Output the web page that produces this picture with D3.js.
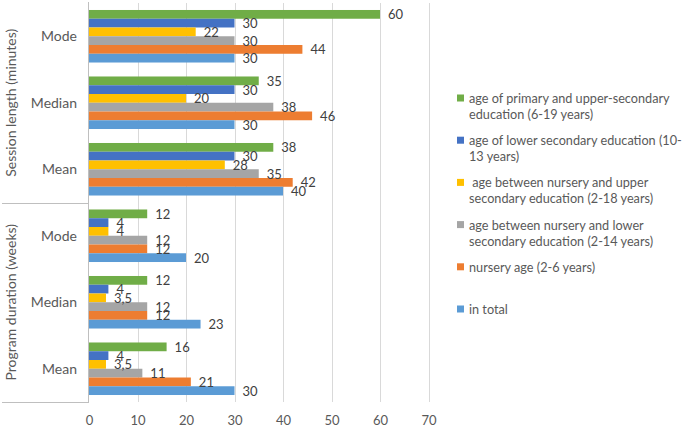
<!DOCTYPE html>
<html>
<head>
<meta charset="utf-8">
<script src="https://cdn.jsdelivr.net/npm/d3@7"></script>
<style>
  html, body { margin: 0; padding: 0; background: #fff; }
  svg { display: block; }
  text { font-family: Lato, "Open Sans", sans-serif; }
</style>
</head>
<body>
<svg id="chart" width="685" height="427"></svg>
<script>
// ---- data ----
const categories = ["Mode", "Median", "Mean", "Mode", "Median", "Mean"];
const groupNames = ["Session length (minutes)", "Program duration (weeks)"];
const categoryGroup = [0, 0, 0, 1, 1, 1];

// series listed top-to-bottom within each category (and legend order)
const seriesNames = [
  "age of primary and upper-secondary education (6-19 years)",
  "age of lower secondary education (10-13 years)",
  " age between nursery and upper secondary education (2-18 years)",
  "age between nursery and lower secondary education (2-14 years)",
  "nursery age (2-6 years)",
  "in total"
];
const legendLines = [
  ["age of primary and upper-secondary", "education (6-19 years)"],
  ["age of lower secondary education (10-", "13 years)"],
  ["\u00a0age between nursery and upper", "secondary education (2-18 years)"],
  ["age between nursery and lower", "secondary education (2-14 years)"],
  ["nursery age (2-6 years)"],
  ["in total"]
];
const seriesColors = ["#70ad47", "#4472c4", "#ffc000", "#a5a5a5", "#ed7d31", "#5b9bd5"];

const primaryUpper   = [60, 35, 38, 12, 12, 16];
const lowerSecondary = [30, 30, 30, 4, 4, 4];
const nurseryUpper   = [22, 20, 28, 4, 3.5, 3.5];
const nurseryLower   = [30, 38, 35, 12, 12, 11];
const nurseryAge     = [44, 46, 42, 12, 12, 21];
const inTotal        = [30, 30, 40, 20, 23, 30];
const seriesValues = [primaryUpper, lowerSecondary, nurseryUpper, nurseryLower, nurseryAge, inTotal];

const xTicks = [0, 10, 20, 30, 40, 50, 60, 70];

// ---- layout ----
const svg = d3.select("#chart");
svg.append("rect").attr("width", 685).attr("height", 427).attr("fill", "#fff");

const plotLeft = 89, plotRight = 428.5, plotTop = 3, plotBottom = 402;

const x = d3.scaleLinear().domain([0, 70]).range([plotLeft, plotRight]);
const y = d3.scaleBand().domain(d3.range(categories.length))
  .range([plotTop, plotBottom]).paddingInner(0.21).paddingOuter(0.105);
const ySeries = d3.scaleBand().domain(d3.range(seriesNames.length))
  .range([0, y.bandwidth()]);

const locale = d3.formatLocale({decimal: ",", thousands: ".", grouping: [3], currency: ["", ""]});
const fmt = v => Number.isInteger(v) ? String(v) : locale.format(".1f")(v);

// gridlines
svg.append("g").selectAll("line").data(xTicks.filter(t => t > 0)).join("line")
  .attr("x1", d => Math.round(x(d)) + 0.5).attr("x2", d => Math.round(x(d)) + 0.5)
  .attr("y1", plotTop).attr("y2", plotBottom)
  .attr("stroke", "#d9d9d9").attr("stroke-width", 1);

// x axis tick labels
const xAxis = d3.axisBottom(x).tickValues(xTicks).tickSize(0).tickPadding(0);
const xg = svg.append("g").attr("transform", `translate(0,${plotBottom})`).call(xAxis);
xg.select(".domain").remove();
xg.selectAll("text").attr("font-family", "Lato, sans-serif").attr("font-size", 13)
  .attr("fill", "#595959").attr("dy", null).attr("y", 23);

// bars
const seriesG = svg.append("g").selectAll("g").data(seriesValues).join("g")
  .attr("fill", (d, i) => seriesColors[i]);
seriesG.each(function(vals, si) {
  d3.select(this).selectAll("rect").data(vals).join("rect")
    .attr("x", x(0))
    .attr("y", (v, ci) => y(ci) + ySeries(si))
    .attr("width", v => x(v) - x(0))
    .attr("height", ySeries.bandwidth());
});

// data labels
const labelsG = svg.append("g");
seriesValues.forEach((vals, si) => {
  labelsG.selectAll(null).data(vals).join("text")
    .attr("x", v => x(v) + 8)
    .attr("y", (v, ci) => y(ci) + ySeries(si) + ySeries.bandwidth() / 2 + 5)
    .attr("font-size", 13).attr("fill", "#404040")
    .text(v => fmt(v));
});

// category axis lines
const axisG = svg.append("g").attr("stroke", "#bfbfbf").attr("stroke-width", 1);
axisG.append("line").attr("x1", plotLeft - 0.5).attr("x2", plotLeft - 0.5)
  .attr("y1", plotTop - 1).attr("y2", plotBottom + 1);
const groupBoundaries = [y(3) - y.step() * y.paddingInner() / 2, plotBottom];
groupBoundaries.forEach(b => {
  axisG.append("line").attr("x1", 2).attr("x2", plotLeft)
    .attr("y1", Math.round(b) + 0.5).attr("y2", Math.round(b) + 0.5);
});

// category labels
svg.append("g").selectAll("text").data(categories).join("text")
  .attr("x", 77).attr("text-anchor", "end")
  .attr("y", (d, i) => y(i) + y.bandwidth() / 2 + 5)
  .attr("font-size", 14).attr("fill", "#595959")
  .text(d => d);

// group labels (rotated)
const groupCenters = [
  (plotTop + groupBoundaries[0]) / 2,
  (groupBoundaries[0] + plotBottom) / 2
];
svg.append("g").selectAll("text").data(groupNames).join("text")
  .attr("transform", (d, i) => `translate(16,${groupCenters[i]}) rotate(-90)`)
  .attr("text-anchor", "middle")
  .attr("font-size", 14).attr("fill", "#595959")
  .text(d => d);

// legend
const legend = svg.append("g");
const legendTop = 98, legendStep = 42.2, lineH = 16;
legendLines.forEach((lines, i) => {
  const cy = legendTop + i * legendStep;
  legend.append("rect").attr("x", 457).attr("y", cy - 3.5)
    .attr("width", 7).attr("height", 7).attr("fill", seriesColors[i]);
  lines.forEach((ln, j) => {
    legend.append("text").attr("x", 469).attr("y", cy + j * lineH + 5)
      .attr("font-size", 12.7).attr("fill", "#595959")
      .style("white-space", "pre")
      .text(ln);
  });
});
</script>
</body>
</html>
